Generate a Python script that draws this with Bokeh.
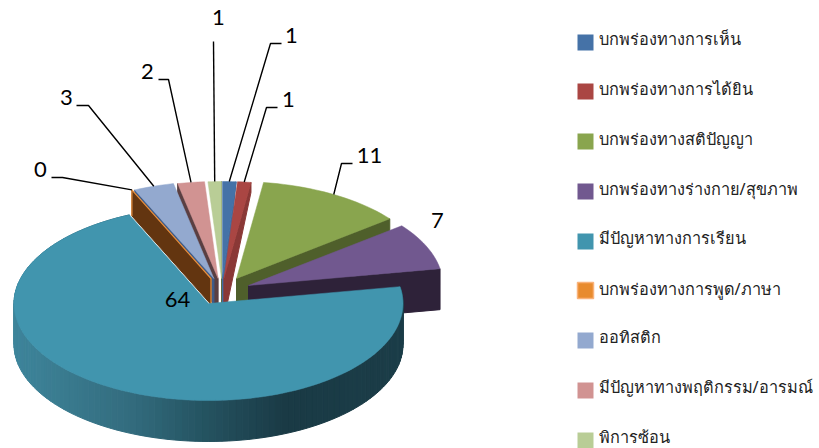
import math
from bokeh.plotting import figure
from bokeh.models import Range1d
from bokeh.core.properties import value
from bokeh.embed import file_html
from bokeh.resources import INLINE

# ---- data ----
categories = ["บกพร่องทางการเห็น", "บกพร่องทางการได้ยิน", "บกพร่องทางสติปัญญา",
              "บกพร่องทางร่างกาย/สุขภาพ", "มีปัญหาทางการเรียน", "บกพร่องทางการพูด/ภาษา",
              "ออทิสติก", "มีปัญหาทางพฤติกรรม/อารมณ์", "พิการซ้อน"]
values = [1, 1, 11, 7, 64, 0, 3, 2, 1]

# ---- styles ----
top_colors = ["#4572A7", "#AA4643", "#89A54E", "#71588F", "#4195AE", "#DB843D", "#93A9CF", "#D19392", "#B9CD96"]
wall_colors = ["#3F6CA2", "#8A3836", "#4F5F2B", "#2E2239", "#1B3D48", "#633510", "#3E5C8A", "#5A3F42", "#5D6B40"]

# ---- layout (page pixels) ----
CX, CY, RX, RY, DEPTH = 208, 303, 194.5, 97, 41
off_x = [14, 15.4, 28, 40, 0, 2.5, 5.4, 9.6, 13]
off_y = [-25, -25, -25, -18, 0, -25, -25, -25, -25]
rim_drop = [0, 10, 41, 41, 41, 26, 4, 10, 10]
apex_drop = [41, 41, 41, 41, 41, 26, 26, 41, 26]
draw_order = [8, 7, 6, 5, 0, 1, 2, 3]
label_pos = [(291, 35), (288, 99), (369, 155), (437, 220), (177, 299), (40, 169), (66, 97), (147, 71), (218, 17)]
leader_elbows = [[(270, 43), (281, 43)], [(266, 107), (277, 107)], [(341, 163), (352, 163)], None, None,
                 [(62, 177), (51, 177)], [(88, 105), (76, 105)], [(168, 79), (158, 79)], [(213, 41)]]
legend_y = [42, 91, 141, 191, 241, 290, 340, 390, 440]
legend_text_y = [38, 88, 138, 188, 237, 288, 336, 386, 436]
wall_stops = [(13, (0x3E, 0x85, 0x9B)), (130, (0x33, 0x6C, 0x7E)), (200, (0x25, 0x54, 0x62)),
              (285, (0x1A, 0x3A, 0x45)), (402, (0x1B, 0x3D, 0x48))]

FONT_NUM = value("Lato")
FONT_TH = value("Noto Sans")


def rim(a, i):
    r = math.radians(a)
    return CX + RX * math.sin(r) + off_x[i], CY - RY * math.cos(r) + off_y[i]


def wall_color(x):
    for (x0, c0), (x1, c1) in zip(wall_stops, wall_stops[1:]):
        if x <= x1:
            t = max(0.0, (x - x0) / (x1 - x0))
            return "#%02x%02x%02x" % tuple(round(u + (v - u) * t) for u, v in zip(c0, c1))
    return "#%02x%02x%02x" % wall_stops[-1][1]


# angles from the values
total = sum(values)
starts, ends = [], []
acc = 0
for v in values:
    starts.append(acc * 360 / total)
    acc += v
    ends.append(acc * 360 / total)

p = figure(width=819, height=448, output_backend="svg", toolbar_location=None,
           x_range=Range1d(0, 819), y_range=Range1d(448, 0), min_border=0)
p.axis.visible = False
p.grid.visible = False
p.outline_line_color = None
p.background_fill_color = "white"
p.border_fill_color = "white"


def draw_slice(i):
    a0, a1 = starts[i], ends[i]
    ax, ay = CX + off_x[i], CY + off_y[i]
    # wall of the cut edge that faces the viewer
    left_side = i >= 5 and i < 8
    edge = a0 if left_side else a1
    ex, ey = rim(edge, i)
    p.patch([ax, ex, ex, ax], [ay, ey, ey + rim_drop[i], ay + apex_drop[i]],
            fill_color=wall_colors[i], line_color=wall_colors[i], line_width=1)
    if values[i] > 0:
        n = max(4, int((a1 - a0) / 2))
        pts = [rim(a0 + (a1 - a0) * k / n, i) for k in range(n + 1)]
        xs = [ax] + [q[0] for q in pts]
        ys = [ay] + [q[1] for q in pts]
        p.patch(xs, ys, fill_color=top_colors[i], line_color=top_colors[i], line_width=0.5)
    else:
        # zero value: only the orange outline of the wall is seen
        p.line([ex, ax, ax], [ey, ay, ay + apex_drop[i]], line_color="#E9903F", line_width=1.2)
        p.line([ex, ex], [ey, ey + rim_drop[i]], line_color="#E9903F", line_width=1.2)


for i in draw_order:
    draw_slice(i)

# big slice: rounded wall with gradient, then top
T = 4
wx, wy, wc = [], [], []
a = starts[T]
while a < ends[T]:
    b = min(a + 2, ends[T])
    x0, y0 = rim(a, T)
    x1, y1 = rim(b, T)
    wx.append([x0, x1, x1, x0])
    wy.append([y0, y1, y1 + DEPTH, y0 + DEPTH])
    wc.append(wall_color((x0 + x1) / 2))
    a = b
p.patches(wx, wy, fill_color=wc, line_color=wc, line_width=1)
n = 128
pts = [rim(starts[T] + (ends[T] - starts[T]) * k / n, T) for k in range(n + 1)]
p.patch([CX] + [q[0] for q in pts], [CY] + [q[1] for q in pts],
        fill_color=top_colors[T], line_color=top_colors[T], line_width=0.5)

# leaders and value labels
for i, el in enumerate(leader_elbows):
    if el:
        mid = (starts[i] + ends[i]) / 2
        ax, ay = rim(mid, i)
        p.line([ax] + [q[0] for q in el], [ay] + [q[1] for q in el], line_color="black", line_width=1.4)
p.text([q[0] for q in label_pos], [q[1] for q in label_pos], text=[str(v) for v in values],
       text_font=FONT_NUM, text_font_size="22px", text_color="black",
       text_align="center", text_baseline="middle")

# legend
for i, name in enumerate(categories):
    if values[i] == 0:
        p.rect([585], [legend_y[i]], 16, 16, fill_color="#E88B2E", line_color="#F9B27A", line_width=1.5)
    else:
        p.rect([585], [legend_y[i]], 16, 16, fill_color=top_colors[i], line_color=None)
p.text([598] * len(categories), legend_text_y, text=categories,
       text_font=FONT_TH, text_font_size="16.3px", text_color="#222222",
       text_align="left", text_baseline="middle")

open("out.html", "w").write(file_html(p, INLINE))
